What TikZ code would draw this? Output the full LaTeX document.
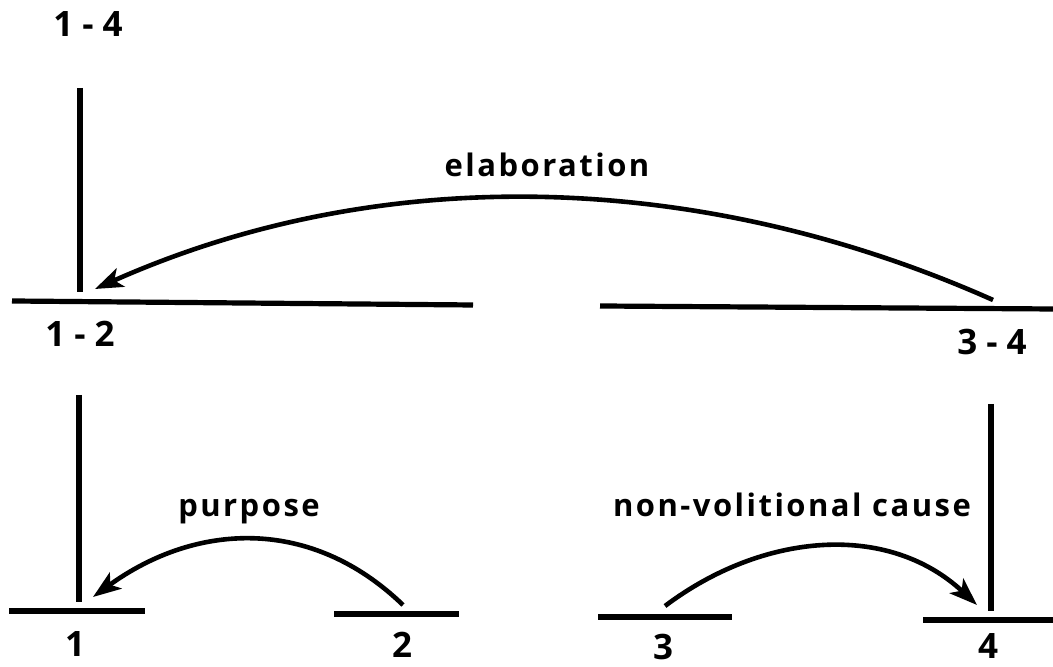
\documentclass[tikz,border=0pt]{standalone}
\usepackage{fontspec}
\setmainfont{Open Sans}
\newfontfamily\relfont[LetterSpace=8]{Open Sans}
\usetikzlibrary{arrows.meta}

\begin{document}
\begin{tikzpicture}[x=0.5pt, y=0.5pt,
spanlabel/.style={font=\fontsize{17.5}{20}\selectfont\bfseries, inner sep=0pt, anchor=base},
rellabel/.style={font=\relfont\fontsize{15.5}{18}\selectfont\bfseries, inner sep=0pt, anchor=base},
spanline/.style={line width=2.6pt},
relarrow/.style={line width=2.3pt, -{Stealth[length=14pt, width=10pt, inset=3.5pt]}},
]
\useasboundingbox (0,0) rectangle (1053,667);

% span labels
\node[spanlabel] at(88,630) (span14) {1 - 4};
\node[spanlabel] at(80,320) (span12) {1 - 2};
\node[spanlabel] at(992,312) (span34) {3 - 4};
\node[spanlabel] at(75,10) (unit1) {1};
\node[spanlabel] at(402,9) (unit2) {2};
\node[spanlabel] at(663,7) (unit3) {3};
\node[spanlabel] at(988,8) (unit4) {4};

% relation labels
\node[rellabel] at(547,490) (elab) {elaboration};
\node[rellabel] at(249,150) (purp) {purpose};
\node[rellabel] at(792,150) (nvc) {non-volitional cause};

% span ends
\coordinate (top14) at (80,579);
\coordinate (bot14) at (80,375);
\coordinate (left12) at (12,366);
\coordinate (right12) at (473,362);
\coordinate (left34) at (600,361);
\coordinate (right34) at (1053,358);
\coordinate (top1) at (79,272);
\coordinate (bot1) at (79,65);
\coordinate (top4) at (991,263);
\coordinate (bot4) at (991,56);
\coordinate (left1) at (9,56);
\coordinate (right1) at (145,56);
\coordinate (left2) at (334,53);
\coordinate (right2) at (459,53);
\coordinate (left3) at (598,50);
\coordinate (right3) at (732,50);
\coordinate (left4) at (923,47);
\coordinate (right4) at (1053,47);

\draw[spanline] (top14) -- (bot14);
\draw[spanline] (left12) -- (right12);
\draw[spanline] (left34) -- (right34);
\draw[spanline] (top1) -- (bot1);
\draw[spanline] (top4) -- (bot4);
\draw[spanline] (left1) -- (right1);
\draw[spanline] (left2) -- (right2);
\draw[spanline] (left3) -- (right3);
\draw[spanline] (left4) -- (right4);

% relation arcs
\coordinate (elabfrom) at (993,367);
\coordinate (elabto) at (95,378);
\coordinate (purpfrom) at (403,62);
\coordinate (purpto) at (93,70);
\coordinate (nvcfrom) at (665,61);
\coordinate (nvcto) at (977,62);

\draw[relarrow] (elabfrom) to[out=156, in=24, looseness=0.9] (elabto);
\draw[relarrow] (purpfrom) to[out=136, in=36, looseness=1.05] (purpto);
\draw[relarrow] (nvcfrom) to[out=37, in=137] (nvcto);

\end{tikzpicture}
\end{document}
